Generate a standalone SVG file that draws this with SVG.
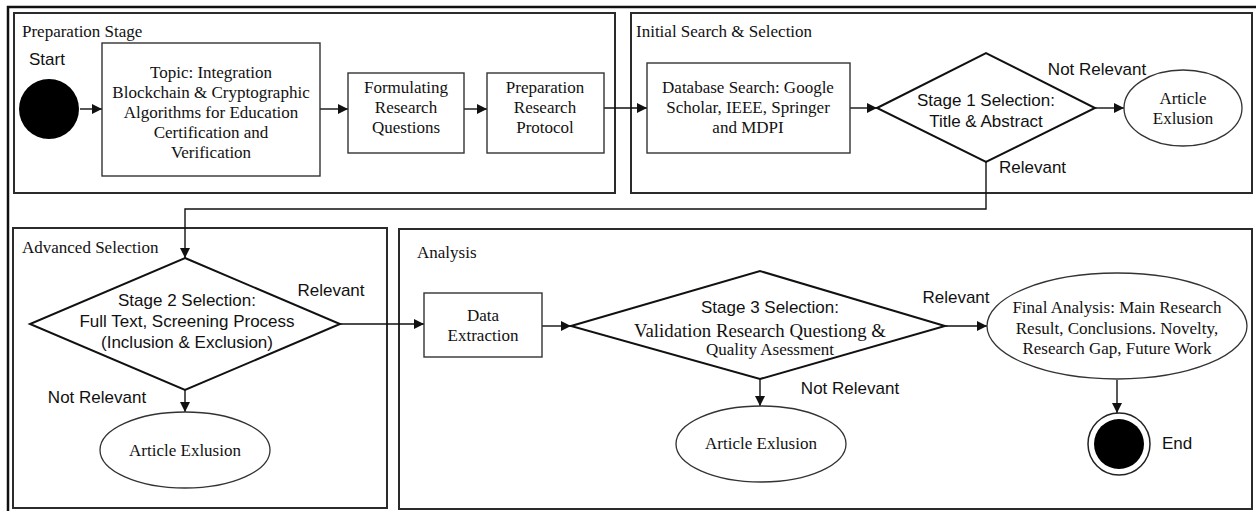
<svg xmlns="http://www.w3.org/2000/svg" width="1256" height="511" viewBox="0 0 1256 511">
<defs>
<style>
.panel{fill:none;stroke:#2b2b2b;stroke-width:2}
.box{fill:#fff;stroke:#333;stroke-width:1.4}
.dia{fill:#fff;stroke:#111;stroke-width:2}
.ell{fill:#fff;stroke:#333;stroke-width:1.3}
.conn{fill:none;stroke:#111;stroke-width:1.4}
.serif{font-family:"Liberation Serif","Times New Roman",serif;font-size:17px;fill:#111}
.sans{font-family:"Liberation Sans",Arial,sans-serif;font-size:17px;fill:#111}
.mid{text-anchor:middle}
</style>
<marker id="arr" markerWidth="10" markerHeight="10" viewBox="0 0 10 10" refX="10" refY="5" orient="auto" markerUnits="userSpaceOnUse">
<path d="M0,0 L10,5 L0,10 z" fill="#111"/>
</marker>
</defs>
<rect width="1256" height="511" fill="#fff"/>
<rect x="8" y="7" width="1270" height="530" fill="none" stroke="#111" stroke-width="2.5"/>

<g id="panels">
<rect class="panel" x="14" y="13" width="601" height="180"/>
<rect class="panel" x="631" y="13" width="621" height="180"/>
<rect class="panel" x="13" y="228" width="374" height="280"/>
<rect class="panel" x="399" y="229" width="853" height="280"/>
<text class="serif" x="22" y="37">Preparation Stage</text>
<text class="serif" x="636" y="37">Initial Search &amp; Selection</text>
<text class="serif" x="22" y="253">Advanced Selection</text>
<text class="serif" x="417" y="258">Analysis</text>
</g>

<g id="connectors">
<line class="conn" x1="80" y1="109" x2="102" y2="109" marker-end="url(#arr)"/>
<line class="conn" x1="320" y1="109" x2="348" y2="109" marker-end="url(#arr)"/>
<line class="conn" x1="464" y1="109" x2="487" y2="109" marker-end="url(#arr)"/>
<line class="conn" x1="604" y1="108" x2="647" y2="108" marker-end="url(#arr)"/>
<line class="conn" x1="850" y1="108" x2="877" y2="108" marker-end="url(#arr)"/>
<line class="conn" x1="1095" y1="108" x2="1124" y2="108" marker-end="url(#arr)"/>
<polyline class="conn" points="986,162 986,209 185,209 185,258" marker-end="url(#arr)"/>
<line class="conn" x1="340" y1="324" x2="424" y2="324" marker-end="url(#arr)"/>
<line class="conn" x1="185" y1="390" x2="185" y2="412" marker-end="url(#arr)"/>
<line class="conn" x1="542" y1="326" x2="571" y2="326" marker-end="url(#arr)"/>
<line class="conn" x1="760" y1="379" x2="760" y2="406" marker-end="url(#arr)"/>
<line class="conn" x1="945" y1="326" x2="987" y2="326" marker-end="url(#arr)"/>
<line class="conn" x1="1117" y1="380" x2="1117" y2="413" marker-end="url(#arr)"/>
<text class="sans mid" x="1097" y="75">Not Relevant</text>
<text class="sans" x="999" y="173">Relevant</text>
<text class="sans mid" x="331" y="296">Relevant</text>
<text class="sans mid" x="97" y="403">Not Relevant</text>
<text class="sans mid" x="956" y="303">Relevant</text>
<text class="sans mid" x="850" y="394">Not Relevant</text>
</g>

<g id="start">
<circle cx="49" cy="109" r="30" fill="#000"/>
<text class="sans" x="29" y="65">Start</text>
</g>

<g id="topic">
<rect class="box" x="102" y="43" width="218" height="133"/>
<text class="serif mid" x="211" y="78">Topic: Integration</text>
<text class="serif mid" x="211" y="98">Blockchain &amp; Cryptographic</text>
<text class="serif mid" x="211" y="118">Algorithms for Education</text>
<text class="serif mid" x="211" y="138">Certification and</text>
<text class="serif mid" x="211" y="158">Verification</text>
</g>

<g id="formulating">
<rect class="box" x="348" y="73" width="116" height="80"/>
<text class="serif mid" x="406" y="93">Formulating</text>
<text class="serif mid" x="406" y="113">Research</text>
<text class="serif mid" x="406" y="133">Questions</text>
</g>

<g id="protocol">
<rect class="box" x="487" y="73" width="117" height="80"/>
<text class="serif mid" x="545" y="93">Preparation</text>
<text class="serif mid" x="545" y="113">Research</text>
<text class="serif mid" x="545" y="133">Protocol</text>
</g>

<g id="database">
<rect class="box" x="647" y="63" width="203" height="90"/>
<text class="serif mid" x="748" y="93">Database Search: Google</text>
<text class="serif mid" x="748" y="113">Scholar, IEEE, Springer</text>
<text class="serif mid" x="748" y="133">and MDPI</text>
</g>

<g id="stage1">
<polygon class="dia" points="877,108 986,53 1095,108 986,162"/>
<text class="sans mid" x="986" y="106">Stage 1 Selection:</text>
<text class="sans mid" x="986" y="127">Title &amp; Abstract</text>
</g>

<g id="exclusion1">
<ellipse class="ell" cx="1183" cy="108" rx="59" ry="38"/>
<text class="serif mid" x="1183" y="104">Article</text>
<text class="serif mid" x="1183" y="124">Exlusion</text>
</g>

<g id="stage2">
<polygon class="dia" points="185,258 340,324 185,390 30,324"/>
<text class="sans mid" x="187" y="306">Stage 2 Selection:</text>
<text class="sans mid" x="187" y="327">Full Text, Screening Process</text>
<text class="sans mid" x="187" y="348">(Inclusion &amp; Exclusion)</text>
</g>

<g id="exclusion2">
<ellipse class="ell" cx="185" cy="450" rx="85" ry="38"/>
<text class="serif mid" x="185" y="456">Article Exlusion</text>
</g>

<g id="extraction">
<rect class="box" x="424" y="293" width="118" height="64"/>
<text class="serif mid" x="483" y="321">Data</text>
<text class="serif mid" x="483" y="341">Extraction</text>
</g>

<g id="stage3">
<polygon class="dia" points="571,326 760,271 945,326 760,379"/>
<text class="sans mid" x="770" y="313">Stage 3 Selection:</text>
<text class="serif mid" x="760" y="337" style="font-size:18.8px">Validation Research Questiong &amp;</text>
<text class="serif mid" x="770" y="355">Quality Asessment</text>
</g>

<g id="exclusion3">
<ellipse class="ell" cx="761" cy="444" rx="85" ry="38"/>
<text class="serif mid" x="761" y="449">Article Exlusion</text>
</g>

<g id="final">
<ellipse class="ell" cx="1117" cy="326" rx="130" ry="53"/>
<text class="serif mid" x="1117" y="313">Final Analysis: Main Research</text>
<text class="serif mid" x="1117" y="334">Result, Conclusions. Novelty,</text>
<text class="serif mid" x="1117" y="354">Research Gap, Future Work</text>
</g>

<g id="end">
<circle cx="1119" cy="444" r="31" fill="#fff" stroke="#222" stroke-width="1.5"/>
<circle cx="1119" cy="444" r="25" fill="#000"/>
<text class="sans" x="1162" y="449">End</text>
</g>
</svg>
